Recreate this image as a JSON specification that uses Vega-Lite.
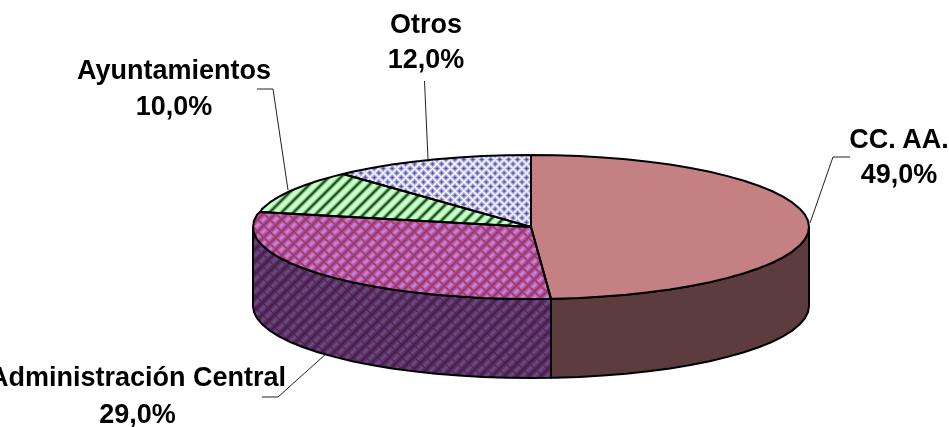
{"$schema":"https://vega.github.io/schema/vega-lite/v6.json","width":949,"height":427,"padding":0,"autosize":"none","background":"#ffffff","view":{"stroke":null},
"datasets":{
"sides":[
{"part":"admin","x":253,"y":227,"y2":306},{"part":"admin","x":254,"y":233.3,"y2":312.3},{"part":"admin","x":257.2,"y":239.5,"y2":318.5},{"part":"admin","x":262.5,"y":245.6,"y2":324.6},{"part":"admin","x":269.8,"y":251.6,"y2":330.6},{"part":"admin","x":279,"y":257.4,"y2":336.4},{"part":"admin","x":290.2,"y":263,"y2":342},{"part":"admin","x":303.3,"y":268.3,"y2":347.3},{"part":"admin","x":318,"y":273.3,"y2":352.3},{"part":"admin","x":334.4,"y":277.9,"y2":356.9},{"part":"admin","x":352.3,"y":282.2,"y2":361.2},{"part":"admin","x":371.5,"y":286,"y2":365},{"part":"admin","x":392,"y":289.4,"y2":368.4},{"part":"admin","x":413.5,"y":292.3,"y2":371.3},{"part":"admin","x":435.9,"y":294.7,"y2":373.7},{"part":"admin","x":459,"y":296.5,"y2":375.5},{"part":"admin","x":482.7,"y":297.9,"y2":376.9},{"part":"admin","x":506.8,"y":298.7,"y2":377.7},{"part":"admin","x":531,"y":299,"y2":378},{"part":"admin","x":551,"y":298.8,"y2":377.8},
{"part":"cc","x":551,"y":298.8,"y2":377.8},{"part":"cc","x":555.2,"y":298.7,"y2":377.7},{"part":"cc","x":579.3,"y":297.9,"y2":376.9},{"part":"cc","x":603,"y":296.5,"y2":375.5},{"part":"cc","x":626.1,"y":294.7,"y2":373.7},{"part":"cc","x":648.5,"y":292.3,"y2":371.3},{"part":"cc","x":670,"y":289.4,"y2":368.4},{"part":"cc","x":690.5,"y":286,"y2":365},{"part":"cc","x":709.7,"y":282.2,"y2":361.2},{"part":"cc","x":727.6,"y":277.9,"y2":356.9},{"part":"cc","x":744,"y":273.3,"y2":352.3},{"part":"cc","x":758.7,"y":268.3,"y2":347.3},{"part":"cc","x":771.8,"y":263,"y2":342},{"part":"cc","x":783,"y":257.4,"y2":336.4},{"part":"cc","x":792.2,"y":251.6,"y2":330.6},{"part":"cc","x":799.5,"y":245.6,"y2":324.6},{"part":"cc","x":804.8,"y":239.5,"y2":318.5},{"part":"cc","x":808,"y":233.3,"y2":312.3},{"part":"cc","x":809,"y":227,"y2":306}],
"slices":[
{"part":"cc","o":1,"x":531,"y":155},{"part":"cc","o":2,"x":555.2,"y":155.3},{"part":"cc","o":3,"x":579.3,"y":156.1},{"part":"cc","o":4,"x":603,"y":157.5},{"part":"cc","o":5,"x":626.1,"y":159.3},{"part":"cc","o":6,"x":648.5,"y":161.7},{"part":"cc","o":7,"x":670,"y":164.6},{"part":"cc","o":8,"x":690.5,"y":168},{"part":"cc","o":9,"x":709.7,"y":171.8},{"part":"cc","o":10,"x":727.6,"y":176.1},{"part":"cc","o":11,"x":744,"y":180.7},{"part":"cc","o":12,"x":758.7,"y":185.7},{"part":"cc","o":13,"x":771.8,"y":191},{"part":"cc","o":14,"x":783,"y":196.6},{"part":"cc","o":15,"x":792.2,"y":202.4},{"part":"cc","o":16,"x":799.5,"y":208.4},{"part":"cc","o":17,"x":804.8,"y":214.5},{"part":"cc","o":18,"x":808,"y":220.7},{"part":"cc","o":19,"x":809,"y":227},{"part":"cc","o":20,"x":808,"y":233.3},{"part":"cc","o":21,"x":804.8,"y":239.5},{"part":"cc","o":22,"x":799.5,"y":245.6},{"part":"cc","o":23,"x":792.2,"y":251.6},{"part":"cc","o":24,"x":783,"y":257.4},{"part":"cc","o":25,"x":771.8,"y":263},{"part":"cc","o":26,"x":758.7,"y":268.3},{"part":"cc","o":27,"x":744,"y":273.3},{"part":"cc","o":28,"x":727.6,"y":277.9},{"part":"cc","o":29,"x":709.7,"y":282.2},{"part":"cc","o":30,"x":690.5,"y":286},{"part":"cc","o":31,"x":670,"y":289.4},{"part":"cc","o":32,"x":648.5,"y":292.3},{"part":"cc","o":33,"x":626.1,"y":294.7},{"part":"cc","o":34,"x":603,"y":296.5},{"part":"cc","o":35,"x":579.3,"y":297.9},{"part":"cc","o":36,"x":555.2,"y":298.7},{"part":"cc","o":37,"x":551,"y":298.8},{"part":"cc","o":38,"x":531,"y":227},{"part":"cc","o":39,"x":531,"y":155},
{"part":"admin","o":1,"x":551,"y":298.8},{"part":"admin","o":2,"x":531,"y":299},{"part":"admin","o":3,"x":506.8,"y":298.7},{"part":"admin","o":4,"x":482.7,"y":297.9},{"part":"admin","o":5,"x":459,"y":296.5},{"part":"admin","o":6,"x":435.9,"y":294.7},{"part":"admin","o":7,"x":413.5,"y":292.3},{"part":"admin","o":8,"x":392,"y":289.4},{"part":"admin","o":9,"x":371.5,"y":286},{"part":"admin","o":10,"x":352.3,"y":282.2},{"part":"admin","o":11,"x":334.4,"y":277.9},{"part":"admin","o":12,"x":318,"y":273.3},{"part":"admin","o":13,"x":303.3,"y":268.3},{"part":"admin","o":14,"x":290.2,"y":263},{"part":"admin","o":15,"x":279,"y":257.4},{"part":"admin","o":16,"x":269.8,"y":251.6},{"part":"admin","o":17,"x":262.5,"y":245.6},{"part":"admin","o":18,"x":257.2,"y":239.5},{"part":"admin","o":19,"x":254,"y":233.3},{"part":"admin","o":20,"x":253,"y":227},{"part":"admin","o":21,"x":254,"y":220.7},{"part":"admin","o":22,"x":257.2,"y":214.5},{"part":"admin","o":23,"x":260,"y":212},{"part":"admin","o":24,"x":531,"y":227},{"part":"admin","o":25,"x":551,"y":298.8},
{"part":"ayto","o":1,"x":260,"y":212},{"part":"ayto","o":2,"x":262.5,"y":208.4},{"part":"ayto","o":3,"x":269.8,"y":202.4},{"part":"ayto","o":4,"x":279,"y":196.6},{"part":"ayto","o":5,"x":290.2,"y":191},{"part":"ayto","o":6,"x":303.3,"y":185.7},{"part":"ayto","o":7,"x":318,"y":180.7},{"part":"ayto","o":8,"x":334.4,"y":176.1},{"part":"ayto","o":9,"x":343,"y":174},{"part":"ayto","o":10,"x":531,"y":227},{"part":"ayto","o":11,"x":260,"y":212},
{"part":"otros","o":1,"x":343,"y":174},{"part":"otros","o":2,"x":352.3,"y":171.8},{"part":"otros","o":3,"x":371.5,"y":168},{"part":"otros","o":4,"x":392,"y":164.6},{"part":"otros","o":5,"x":413.5,"y":161.7},{"part":"otros","o":6,"x":435.9,"y":159.3},{"part":"otros","o":7,"x":459,"y":157.5},{"part":"otros","o":8,"x":482.7,"y":156.1},{"part":"otros","o":9,"x":506.8,"y":155.3},{"part":"otros","o":10,"x":531,"y":155},{"part":"otros","o":11,"x":531,"y":227},{"part":"otros","o":12,"x":343,"y":174}],
"leaders":[
{"part":"ayto","o":1,"x":257,"y":89},{"part":"ayto","o":2,"x":273,"y":89},{"part":"ayto","o":3,"x":288,"y":190},
{"part":"otros","o":1,"x":424.5,"y":81},{"part":"otros","o":2,"x":428,"y":159},
{"part":"cc","o":1,"x":850,"y":157},{"part":"cc","o":2,"x":833,"y":157},{"part":"cc","o":3,"x":810,"y":223},
{"part":"admin","o":1,"x":262,"y":397},{"part":"admin","o":2,"x":278,"y":397},{"part":"admin","o":3,"x":327,"y":353}],
"labels":[
{"t":"Otros","x":426,"y":33},{"t":"12,0%","x":426,"y":68},
{"t":"Ayuntamientos","x":174,"y":79},{"t":"10,0%","x":174,"y":115},
{"t":"CC. AA.","x":899,"y":148},{"t":"49,0%","x":899,"y":183},
{"t":"Administración Central","x":137.5,"y":386},{"t":"29,0%","x":137.5,"y":423}]
},
"encoding":{"x":{"field":"x","type":"quantitative","scale":{"domain":[0,949],"nice":false,"zero":false},"axis":null},"y":{"field":"y","type":"quantitative","scale":{"domain":[427,0],"nice":false,"zero":false},"axis":null}},
"layer":[
{"data":{"name":"sides"},"transform":[{"filter":"datum.part==='admin'"}],"mark":{"type":"area","fill":{"gradient":"linear","x1":0,"y1":0,"x2":1.1989,"y2":0.6075,"stops":[{"offset":0,"color":"#4a1a44"},{"offset":0.0135,"color":"#6a4c8c"},{"offset":0.027,"color":"#4a1a44"},{"offset":0.0405,"color":"#6a4c8c"},{"offset":0.0541,"color":"#4a1a44"},{"offset":0.0676,"color":"#6a4c8c"},{"offset":0.0811,"color":"#4a1a44"},{"offset":0.0946,"color":"#6a4c8c"},{"offset":0.1081,"color":"#4a1a44"},{"offset":0.1216,"color":"#6a4c8c"},{"offset":0.1351,"color":"#4a1a44"},{"offset":0.1486,"color":"#6a4c8c"},{"offset":0.1622,"color":"#4a1a44"},{"offset":0.1757,"color":"#6a4c8c"},{"offset":0.1892,"color":"#4a1a44"},{"offset":0.2027,"color":"#6a4c8c"},{"offset":0.2162,"color":"#4a1a44"},{"offset":0.2297,"color":"#6a4c8c"},{"offset":0.2432,"color":"#4a1a44"},{"offset":0.2568,"color":"#6a4c8c"},{"offset":0.2703,"color":"#4a1a44"},{"offset":0.2838,"color":"#6a4c8c"},{"offset":0.2973,"color":"#4a1a44"},{"offset":0.3108,"color":"#6a4c8c"},{"offset":0.3243,"color":"#4a1a44"},{"offset":0.3378,"color":"#6a4c8c"},{"offset":0.3514,"color":"#4a1a44"},{"offset":0.3649,"color":"#6a4c8c"},{"offset":0.3784,"color":"#4a1a44"},{"offset":0.3919,"color":"#6a4c8c"},{"offset":0.4054,"color":"#4a1a44"},{"offset":0.4189,"color":"#6a4c8c"},{"offset":0.4324,"color":"#4a1a44"},{"offset":0.4459,"color":"#6a4c8c"},{"offset":0.4595,"color":"#4a1a44"},{"offset":0.473,"color":"#6a4c8c"},{"offset":0.4865,"color":"#4a1a44"},{"offset":0.5,"color":"#6a4c8c"},{"offset":0.5135,"color":"#4a1a44"},{"offset":0.527,"color":"#6a4c8c"},{"offset":0.5405,"color":"#4a1a44"},{"offset":0.5541,"color":"#6a4c8c"},{"offset":0.5676,"color":"#4a1a44"},{"offset":0.5811,"color":"#6a4c8c"},{"offset":0.5946,"color":"#4a1a44"},{"offset":0.6081,"color":"#6a4c8c"},{"offset":0.6216,"color":"#4a1a44"},{"offset":0.6351,"color":"#6a4c8c"},{"offset":0.6486,"color":"#4a1a44"},{"offset":0.6622,"color":"#6a4c8c"},{"offset":0.6757,"color":"#4a1a44"},{"offset":0.6892,"color":"#6a4c8c"},{"offset":0.7027,"color":"#4a1a44"},{"offset":0.7162,"color":"#6a4c8c"},{"offset":0.7297,"color":"#4a1a44"},{"offset":0.7432,"color":"#6a4c8c"},{"offset":0.7568,"color":"#4a1a44"},{"offset":0.7703,"color":"#6a4c8c"},{"offset":0.7838,"color":"#4a1a44"},{"offset":0.7973,"color":"#6a4c8c"},{"offset":0.8108,"color":"#4a1a44"},{"offset":0.8243,"color":"#6a4c8c"},{"offset":0.8378,"color":"#4a1a44"},{"offset":0.8514,"color":"#6a4c8c"},{"offset":0.8649,"color":"#4a1a44"},{"offset":0.8784,"color":"#6a4c8c"},{"offset":0.8919,"color":"#4a1a44"},{"offset":0.9054,"color":"#6a4c8c"},{"offset":0.9189,"color":"#4a1a44"},{"offset":0.9324,"color":"#6a4c8c"},{"offset":0.9459,"color":"#4a1a44"},{"offset":0.9595,"color":"#6a4c8c"},{"offset":0.973,"color":"#4a1a44"},{"offset":0.9865,"color":"#6a4c8c"},{"offset":1,"color":"#4a1a44"}]}},"encoding":{"y2":{"field":"y2"}}},
{"data":{"name":"sides"},"transform":[{"filter":"datum.part==='admin'"}],"mark":{"type":"area","blend":"darken","fill":{"gradient":"linear","x1":0,"y1":1,"x2":1.1989,"y2":0.3925,"stops":[{"offset":0,"color":"#4a1a44"},{"offset":0.0135,"color":"#fff"},{"offset":0.027,"color":"#4a1a44"},{"offset":0.0405,"color":"#fff"},{"offset":0.0541,"color":"#4a1a44"},{"offset":0.0676,"color":"#fff"},{"offset":0.0811,"color":"#4a1a44"},{"offset":0.0946,"color":"#fff"},{"offset":0.1081,"color":"#4a1a44"},{"offset":0.1216,"color":"#fff"},{"offset":0.1351,"color":"#4a1a44"},{"offset":0.1486,"color":"#fff"},{"offset":0.1622,"color":"#4a1a44"},{"offset":0.1757,"color":"#fff"},{"offset":0.1892,"color":"#4a1a44"},{"offset":0.2027,"color":"#fff"},{"offset":0.2162,"color":"#4a1a44"},{"offset":0.2297,"color":"#fff"},{"offset":0.2432,"color":"#4a1a44"},{"offset":0.2568,"color":"#fff"},{"offset":0.2703,"color":"#4a1a44"},{"offset":0.2838,"color":"#fff"},{"offset":0.2973,"color":"#4a1a44"},{"offset":0.3108,"color":"#fff"},{"offset":0.3243,"color":"#4a1a44"},{"offset":0.3378,"color":"#fff"},{"offset":0.3514,"color":"#4a1a44"},{"offset":0.3649,"color":"#fff"},{"offset":0.3784,"color":"#4a1a44"},{"offset":0.3919,"color":"#fff"},{"offset":0.4054,"color":"#4a1a44"},{"offset":0.4189,"color":"#fff"},{"offset":0.4324,"color":"#4a1a44"},{"offset":0.4459,"color":"#fff"},{"offset":0.4595,"color":"#4a1a44"},{"offset":0.473,"color":"#fff"},{"offset":0.4865,"color":"#4a1a44"},{"offset":0.5,"color":"#fff"},{"offset":0.5135,"color":"#4a1a44"},{"offset":0.527,"color":"#fff"},{"offset":0.5405,"color":"#4a1a44"},{"offset":0.5541,"color":"#fff"},{"offset":0.5676,"color":"#4a1a44"},{"offset":0.5811,"color":"#fff"},{"offset":0.5946,"color":"#4a1a44"},{"offset":0.6081,"color":"#fff"},{"offset":0.6216,"color":"#4a1a44"},{"offset":0.6351,"color":"#fff"},{"offset":0.6486,"color":"#4a1a44"},{"offset":0.6622,"color":"#fff"},{"offset":0.6757,"color":"#4a1a44"},{"offset":0.6892,"color":"#fff"},{"offset":0.7027,"color":"#4a1a44"},{"offset":0.7162,"color":"#fff"},{"offset":0.7297,"color":"#4a1a44"},{"offset":0.7432,"color":"#fff"},{"offset":0.7568,"color":"#4a1a44"},{"offset":0.7703,"color":"#fff"},{"offset":0.7838,"color":"#4a1a44"},{"offset":0.7973,"color":"#fff"},{"offset":0.8108,"color":"#4a1a44"},{"offset":0.8243,"color":"#fff"},{"offset":0.8378,"color":"#4a1a44"},{"offset":0.8514,"color":"#fff"},{"offset":0.8649,"color":"#4a1a44"},{"offset":0.8784,"color":"#fff"},{"offset":0.8919,"color":"#4a1a44"},{"offset":0.9054,"color":"#fff"},{"offset":0.9189,"color":"#4a1a44"},{"offset":0.9324,"color":"#fff"},{"offset":0.9459,"color":"#4a1a44"},{"offset":0.9595,"color":"#fff"},{"offset":0.973,"color":"#4a1a44"},{"offset":0.9865,"color":"#fff"},{"offset":1,"color":"#4a1a44"}]}},"encoding":{"y2":{"field":"y2"}}},
{"data":{"name":"sides"},"transform":[{"filter":"datum.part==='cc'"}],"mark":{"type":"area","fill":"#5c3c3c"},"encoding":{"y2":{"field":"y2"}}},
{"data":{"name":"sides"},"mark":{"type":"area","filled":false,"stroke":"#000","strokeWidth":2},"encoding":{"y2":{"field":"y2"},"detail":{"field":"part"}}},
{"data":{"name":"slices"},"transform":[{"filter":"datum.part==='cc'"}],"mark":{"type":"line","fill":"#c48082","stroke":null},"encoding":{"order":{"field":"o"}}},
{"data":{"name":"slices"},"transform":[{"filter":"datum.part==='admin'"}],"mark":{"type":"line","stroke":null,"fill":{"gradient":"linear","x1":0,"y1":0,"x2":1.1905,"y2":0.3476,"stops":[{"offset":0,"color":"#9a2f66"},{"offset":0.0156,"color":"#c8f"},{"offset":0.0313,"color":"#9a2f66"},{"offset":0.0469,"color":"#c8f"},{"offset":0.0625,"color":"#9a2f66"},{"offset":0.0781,"color":"#c8f"},{"offset":0.0938,"color":"#9a2f66"},{"offset":0.1094,"color":"#c8f"},{"offset":0.125,"color":"#9a2f66"},{"offset":0.1406,"color":"#c8f"},{"offset":0.1563,"color":"#9a2f66"},{"offset":0.1719,"color":"#c8f"},{"offset":0.1875,"color":"#9a2f66"},{"offset":0.2031,"color":"#c8f"},{"offset":0.2188,"color":"#9a2f66"},{"offset":0.2344,"color":"#c8f"},{"offset":0.25,"color":"#9a2f66"},{"offset":0.2656,"color":"#c8f"},{"offset":0.2813,"color":"#9a2f66"},{"offset":0.2969,"color":"#c8f"},{"offset":0.3125,"color":"#9a2f66"},{"offset":0.3281,"color":"#c8f"},{"offset":0.3438,"color":"#9a2f66"},{"offset":0.3594,"color":"#c8f"},{"offset":0.375,"color":"#9a2f66"},{"offset":0.3906,"color":"#c8f"},{"offset":0.4063,"color":"#9a2f66"},{"offset":0.4219,"color":"#c8f"},{"offset":0.4375,"color":"#9a2f66"},{"offset":0.4531,"color":"#c8f"},{"offset":0.4688,"color":"#9a2f66"},{"offset":0.4844,"color":"#c8f"},{"offset":0.5,"color":"#9a2f66"},{"offset":0.5156,"color":"#c8f"},{"offset":0.5313,"color":"#9a2f66"},{"offset":0.5469,"color":"#c8f"},{"offset":0.5625,"color":"#9a2f66"},{"offset":0.5781,"color":"#c8f"},{"offset":0.5938,"color":"#9a2f66"},{"offset":0.6094,"color":"#c8f"},{"offset":0.625,"color":"#9a2f66"},{"offset":0.6406,"color":"#c8f"},{"offset":0.6563,"color":"#9a2f66"},{"offset":0.6719,"color":"#c8f"},{"offset":0.6875,"color":"#9a2f66"},{"offset":0.7031,"color":"#c8f"},{"offset":0.7188,"color":"#9a2f66"},{"offset":0.7344,"color":"#c8f"},{"offset":0.75,"color":"#9a2f66"},{"offset":0.7656,"color":"#c8f"},{"offset":0.7813,"color":"#9a2f66"},{"offset":0.7969,"color":"#c8f"},{"offset":0.8125,"color":"#9a2f66"},{"offset":0.8281,"color":"#c8f"},{"offset":0.8438,"color":"#9a2f66"},{"offset":0.8594,"color":"#c8f"},{"offset":0.875,"color":"#9a2f66"},{"offset":0.8906,"color":"#c8f"},{"offset":0.9063,"color":"#9a2f66"},{"offset":0.9219,"color":"#c8f"},{"offset":0.9375,"color":"#9a2f66"},{"offset":0.9531,"color":"#c8f"},{"offset":0.9688,"color":"#9a2f66"},{"offset":0.9844,"color":"#c8f"},{"offset":1,"color":"#9a2f66"}]}},"encoding":{"order":{"field":"o"}}},
{"data":{"name":"slices"},"transform":[{"filter":"datum.part==='admin'"}],"mark":{"type":"line","stroke":null,"blend":"darken","fill":{"gradient":"linear","x1":0,"y1":1,"x2":1.1905,"y2":0.6524,"stops":[{"offset":0,"color":"#9a2f66"},{"offset":0.0156,"color":"#fff"},{"offset":0.0313,"color":"#9a2f66"},{"offset":0.0469,"color":"#fff"},{"offset":0.0625,"color":"#9a2f66"},{"offset":0.0781,"color":"#fff"},{"offset":0.0938,"color":"#9a2f66"},{"offset":0.1094,"color":"#fff"},{"offset":0.125,"color":"#9a2f66"},{"offset":0.1406,"color":"#fff"},{"offset":0.1563,"color":"#9a2f66"},{"offset":0.1719,"color":"#fff"},{"offset":0.1875,"color":"#9a2f66"},{"offset":0.2031,"color":"#fff"},{"offset":0.2188,"color":"#9a2f66"},{"offset":0.2344,"color":"#fff"},{"offset":0.25,"color":"#9a2f66"},{"offset":0.2656,"color":"#fff"},{"offset":0.2813,"color":"#9a2f66"},{"offset":0.2969,"color":"#fff"},{"offset":0.3125,"color":"#9a2f66"},{"offset":0.3281,"color":"#fff"},{"offset":0.3438,"color":"#9a2f66"},{"offset":0.3594,"color":"#fff"},{"offset":0.375,"color":"#9a2f66"},{"offset":0.3906,"color":"#fff"},{"offset":0.4063,"color":"#9a2f66"},{"offset":0.4219,"color":"#fff"},{"offset":0.4375,"color":"#9a2f66"},{"offset":0.4531,"color":"#fff"},{"offset":0.4688,"color":"#9a2f66"},{"offset":0.4844,"color":"#fff"},{"offset":0.5,"color":"#9a2f66"},{"offset":0.5156,"color":"#fff"},{"offset":0.5313,"color":"#9a2f66"},{"offset":0.5469,"color":"#fff"},{"offset":0.5625,"color":"#9a2f66"},{"offset":0.5781,"color":"#fff"},{"offset":0.5938,"color":"#9a2f66"},{"offset":0.6094,"color":"#fff"},{"offset":0.625,"color":"#9a2f66"},{"offset":0.6406,"color":"#fff"},{"offset":0.6563,"color":"#9a2f66"},{"offset":0.6719,"color":"#fff"},{"offset":0.6875,"color":"#9a2f66"},{"offset":0.7031,"color":"#fff"},{"offset":0.7188,"color":"#9a2f66"},{"offset":0.7344,"color":"#fff"},{"offset":0.75,"color":"#9a2f66"},{"offset":0.7656,"color":"#fff"},{"offset":0.7813,"color":"#9a2f66"},{"offset":0.7969,"color":"#fff"},{"offset":0.8125,"color":"#9a2f66"},{"offset":0.8281,"color":"#fff"},{"offset":0.8438,"color":"#9a2f66"},{"offset":0.8594,"color":"#fff"},{"offset":0.875,"color":"#9a2f66"},{"offset":0.8906,"color":"#fff"},{"offset":0.9063,"color":"#9a2f66"},{"offset":0.9219,"color":"#fff"},{"offset":0.9375,"color":"#9a2f66"},{"offset":0.9531,"color":"#fff"},{"offset":0.9688,"color":"#9a2f66"},{"offset":0.9844,"color":"#fff"},{"offset":1,"color":"#9a2f66"}]}},"encoding":{"order":{"field":"o"}}},
{"data":{"name":"slices"},"transform":[{"filter":"datum.part==='otros'"}],"mark":{"type":"line","stroke":null,"fill":{"gradient":"linear","x1":0,"y1":0,"x2":1.3306,"y2":0.5069,"stops":[{"offset":0,"color":"#3a3aa8"},{"offset":0.0156,"color":"#fff"},{"offset":0.0313,"color":"#3a3aa8"},{"offset":0.0469,"color":"#fff"},{"offset":0.0625,"color":"#3a3aa8"},{"offset":0.0781,"color":"#fff"},{"offset":0.0938,"color":"#3a3aa8"},{"offset":0.1094,"color":"#fff"},{"offset":0.125,"color":"#3a3aa8"},{"offset":0.1406,"color":"#fff"},{"offset":0.1563,"color":"#3a3aa8"},{"offset":0.1719,"color":"#fff"},{"offset":0.1875,"color":"#3a3aa8"},{"offset":0.2031,"color":"#fff"},{"offset":0.2188,"color":"#3a3aa8"},{"offset":0.2344,"color":"#fff"},{"offset":0.25,"color":"#3a3aa8"},{"offset":0.2656,"color":"#fff"},{"offset":0.2813,"color":"#3a3aa8"},{"offset":0.2969,"color":"#fff"},{"offset":0.3125,"color":"#3a3aa8"},{"offset":0.3281,"color":"#fff"},{"offset":0.3438,"color":"#3a3aa8"},{"offset":0.3594,"color":"#fff"},{"offset":0.375,"color":"#3a3aa8"},{"offset":0.3906,"color":"#fff"},{"offset":0.4063,"color":"#3a3aa8"},{"offset":0.4219,"color":"#fff"},{"offset":0.4375,"color":"#3a3aa8"},{"offset":0.4531,"color":"#fff"},{"offset":0.4688,"color":"#3a3aa8"},{"offset":0.4844,"color":"#fff"},{"offset":0.5,"color":"#3a3aa8"},{"offset":0.5156,"color":"#fff"},{"offset":0.5313,"color":"#3a3aa8"},{"offset":0.5469,"color":"#fff"},{"offset":0.5625,"color":"#3a3aa8"},{"offset":0.5781,"color":"#fff"},{"offset":0.5938,"color":"#3a3aa8"},{"offset":0.6094,"color":"#fff"},{"offset":0.625,"color":"#3a3aa8"},{"offset":0.6406,"color":"#fff"},{"offset":0.6563,"color":"#3a3aa8"},{"offset":0.6719,"color":"#fff"},{"offset":0.6875,"color":"#3a3aa8"},{"offset":0.7031,"color":"#fff"},{"offset":0.7188,"color":"#3a3aa8"},{"offset":0.7344,"color":"#fff"},{"offset":0.75,"color":"#3a3aa8"},{"offset":0.7656,"color":"#fff"},{"offset":0.7813,"color":"#3a3aa8"},{"offset":0.7969,"color":"#fff"},{"offset":0.8125,"color":"#3a3aa8"},{"offset":0.8281,"color":"#fff"},{"offset":0.8438,"color":"#3a3aa8"},{"offset":0.8594,"color":"#fff"},{"offset":0.875,"color":"#3a3aa8"},{"offset":0.8906,"color":"#fff"},{"offset":0.9063,"color":"#3a3aa8"},{"offset":0.9219,"color":"#fff"},{"offset":0.9375,"color":"#3a3aa8"},{"offset":0.9531,"color":"#fff"},{"offset":0.9688,"color":"#3a3aa8"},{"offset":0.9844,"color":"#fff"},{"offset":1,"color":"#3a3aa8"}]}},"encoding":{"order":{"field":"o"}}},
{"data":{"name":"slices"},"transform":[{"filter":"datum.part==='otros'"}],"mark":{"type":"line","stroke":null,"blend":"lighten","fill":{"gradient":"linear","x1":0,"y1":1,"x2":1.3306,"y2":0.4931,"stops":[{"offset":0,"color":"#3a3aa8"},{"offset":0.0156,"color":"#fff"},{"offset":0.0313,"color":"#3a3aa8"},{"offset":0.0469,"color":"#fff"},{"offset":0.0625,"color":"#3a3aa8"},{"offset":0.0781,"color":"#fff"},{"offset":0.0938,"color":"#3a3aa8"},{"offset":0.1094,"color":"#fff"},{"offset":0.125,"color":"#3a3aa8"},{"offset":0.1406,"color":"#fff"},{"offset":0.1563,"color":"#3a3aa8"},{"offset":0.1719,"color":"#fff"},{"offset":0.1875,"color":"#3a3aa8"},{"offset":0.2031,"color":"#fff"},{"offset":0.2188,"color":"#3a3aa8"},{"offset":0.2344,"color":"#fff"},{"offset":0.25,"color":"#3a3aa8"},{"offset":0.2656,"color":"#fff"},{"offset":0.2813,"color":"#3a3aa8"},{"offset":0.2969,"color":"#fff"},{"offset":0.3125,"color":"#3a3aa8"},{"offset":0.3281,"color":"#fff"},{"offset":0.3438,"color":"#3a3aa8"},{"offset":0.3594,"color":"#fff"},{"offset":0.375,"color":"#3a3aa8"},{"offset":0.3906,"color":"#fff"},{"offset":0.4063,"color":"#3a3aa8"},{"offset":0.4219,"color":"#fff"},{"offset":0.4375,"color":"#3a3aa8"},{"offset":0.4531,"color":"#fff"},{"offset":0.4688,"color":"#3a3aa8"},{"offset":0.4844,"color":"#fff"},{"offset":0.5,"color":"#3a3aa8"},{"offset":0.5156,"color":"#fff"},{"offset":0.5313,"color":"#3a3aa8"},{"offset":0.5469,"color":"#fff"},{"offset":0.5625,"color":"#3a3aa8"},{"offset":0.5781,"color":"#fff"},{"offset":0.5938,"color":"#3a3aa8"},{"offset":0.6094,"color":"#fff"},{"offset":0.625,"color":"#3a3aa8"},{"offset":0.6406,"color":"#fff"},{"offset":0.6563,"color":"#3a3aa8"},{"offset":0.6719,"color":"#fff"},{"offset":0.6875,"color":"#3a3aa8"},{"offset":0.7031,"color":"#fff"},{"offset":0.7188,"color":"#3a3aa8"},{"offset":0.7344,"color":"#fff"},{"offset":0.75,"color":"#3a3aa8"},{"offset":0.7656,"color":"#fff"},{"offset":0.7813,"color":"#3a3aa8"},{"offset":0.7969,"color":"#fff"},{"offset":0.8125,"color":"#3a3aa8"},{"offset":0.8281,"color":"#fff"},{"offset":0.8438,"color":"#3a3aa8"},{"offset":0.8594,"color":"#fff"},{"offset":0.875,"color":"#3a3aa8"},{"offset":0.8906,"color":"#fff"},{"offset":0.9063,"color":"#3a3aa8"},{"offset":0.9219,"color":"#fff"},{"offset":0.9375,"color":"#3a3aa8"},{"offset":0.9531,"color":"#fff"},{"offset":0.9688,"color":"#3a3aa8"},{"offset":0.9844,"color":"#fff"},{"offset":1,"color":"#3a3aa8"}]}},"encoding":{"order":{"field":"o"}}},
{"data":{"name":"slices"},"transform":[{"filter":"datum.part==='ayto'"}],"mark":{"type":"line","stroke":null,"fill":{"gradient":"linear","x1":0,"y1":0,"x2":1.1515,"y2":0.2252,"stops":[{"offset":0,"color":"#0a400a"},{"offset":0.0111,"color":"#c8ffc8"},{"offset":0.0259,"color":"#c8ffc8"},{"offset":0.037,"color":"#0a400a"},{"offset":0.0481,"color":"#c8ffc8"},{"offset":0.063,"color":"#c8ffc8"},{"offset":0.0741,"color":"#0a400a"},{"offset":0.0852,"color":"#c8ffc8"},{"offset":0.1,"color":"#c8ffc8"},{"offset":0.1111,"color":"#0a400a"},{"offset":0.1222,"color":"#c8ffc8"},{"offset":0.137,"color":"#c8ffc8"},{"offset":0.1481,"color":"#0a400a"},{"offset":0.1593,"color":"#c8ffc8"},{"offset":0.1741,"color":"#c8ffc8"},{"offset":0.1852,"color":"#0a400a"},{"offset":0.1963,"color":"#c8ffc8"},{"offset":0.2111,"color":"#c8ffc8"},{"offset":0.2222,"color":"#0a400a"},{"offset":0.2333,"color":"#c8ffc8"},{"offset":0.2481,"color":"#c8ffc8"},{"offset":0.2593,"color":"#0a400a"},{"offset":0.2704,"color":"#c8ffc8"},{"offset":0.2852,"color":"#c8ffc8"},{"offset":0.2963,"color":"#0a400a"},{"offset":0.3074,"color":"#c8ffc8"},{"offset":0.3222,"color":"#c8ffc8"},{"offset":0.3333,"color":"#0a400a"},{"offset":0.3444,"color":"#c8ffc8"},{"offset":0.3593,"color":"#c8ffc8"},{"offset":0.3704,"color":"#0a400a"},{"offset":0.3815,"color":"#c8ffc8"},{"offset":0.3963,"color":"#c8ffc8"},{"offset":0.4074,"color":"#0a400a"},{"offset":0.4185,"color":"#c8ffc8"},{"offset":0.4333,"color":"#c8ffc8"},{"offset":0.4444,"color":"#0a400a"},{"offset":0.4556,"color":"#c8ffc8"},{"offset":0.4704,"color":"#c8ffc8"},{"offset":0.4815,"color":"#0a400a"},{"offset":0.4926,"color":"#c8ffc8"},{"offset":0.5074,"color":"#c8ffc8"},{"offset":0.5185,"color":"#0a400a"},{"offset":0.5296,"color":"#c8ffc8"},{"offset":0.5444,"color":"#c8ffc8"},{"offset":0.5556,"color":"#0a400a"},{"offset":0.5667,"color":"#c8ffc8"},{"offset":0.5815,"color":"#c8ffc8"},{"offset":0.5926,"color":"#0a400a"},{"offset":0.6037,"color":"#c8ffc8"},{"offset":0.6185,"color":"#c8ffc8"},{"offset":0.6296,"color":"#0a400a"},{"offset":0.6407,"color":"#c8ffc8"},{"offset":0.6556,"color":"#c8ffc8"},{"offset":0.6667,"color":"#0a400a"},{"offset":0.6778,"color":"#c8ffc8"},{"offset":0.6926,"color":"#c8ffc8"},{"offset":0.7037,"color":"#0a400a"},{"offset":0.7148,"color":"#c8ffc8"},{"offset":0.7296,"color":"#c8ffc8"},{"offset":0.7407,"color":"#0a400a"},{"offset":0.7519,"color":"#c8ffc8"},{"offset":0.7667,"color":"#c8ffc8"},{"offset":0.7778,"color":"#0a400a"},{"offset":0.7889,"color":"#c8ffc8"},{"offset":0.8037,"color":"#c8ffc8"},{"offset":0.8148,"color":"#0a400a"},{"offset":0.8259,"color":"#c8ffc8"},{"offset":0.8407,"color":"#c8ffc8"},{"offset":0.8519,"color":"#0a400a"},{"offset":0.863,"color":"#c8ffc8"},{"offset":0.8778,"color":"#c8ffc8"},{"offset":0.8889,"color":"#0a400a"},{"offset":0.9,"color":"#c8ffc8"},{"offset":0.9148,"color":"#c8ffc8"},{"offset":0.9259,"color":"#0a400a"},{"offset":0.937,"color":"#c8ffc8"},{"offset":0.9519,"color":"#c8ffc8"},{"offset":0.963,"color":"#0a400a"},{"offset":0.9741,"color":"#c8ffc8"},{"offset":0.9889,"color":"#c8ffc8"},{"offset":1,"color":"#0a400a"}]}},"encoding":{"order":{"field":"o"}}},
{"data":{"name":"slices"},"mark":{"type":"line","stroke":"#000","strokeWidth":2,"strokeJoin":"round"},"encoding":{"detail":{"field":"part"},"order":{"field":"o"}}},
{"data":{"name":"leaders"},"mark":{"type":"line","stroke":"#222","strokeWidth":1},"encoding":{"detail":{"field":"part"},"order":{"field":"o"}}},
{"data":{"name":"labels"},"mark":{"type":"text","align":"center","baseline":"alphabetic","font":"Liberation Sans Narrow, Liberation Sans","fontWeight":"bold","fontSize":27,"color":"#000"},"encoding":{"text":{"field":"t"}}}
]}
